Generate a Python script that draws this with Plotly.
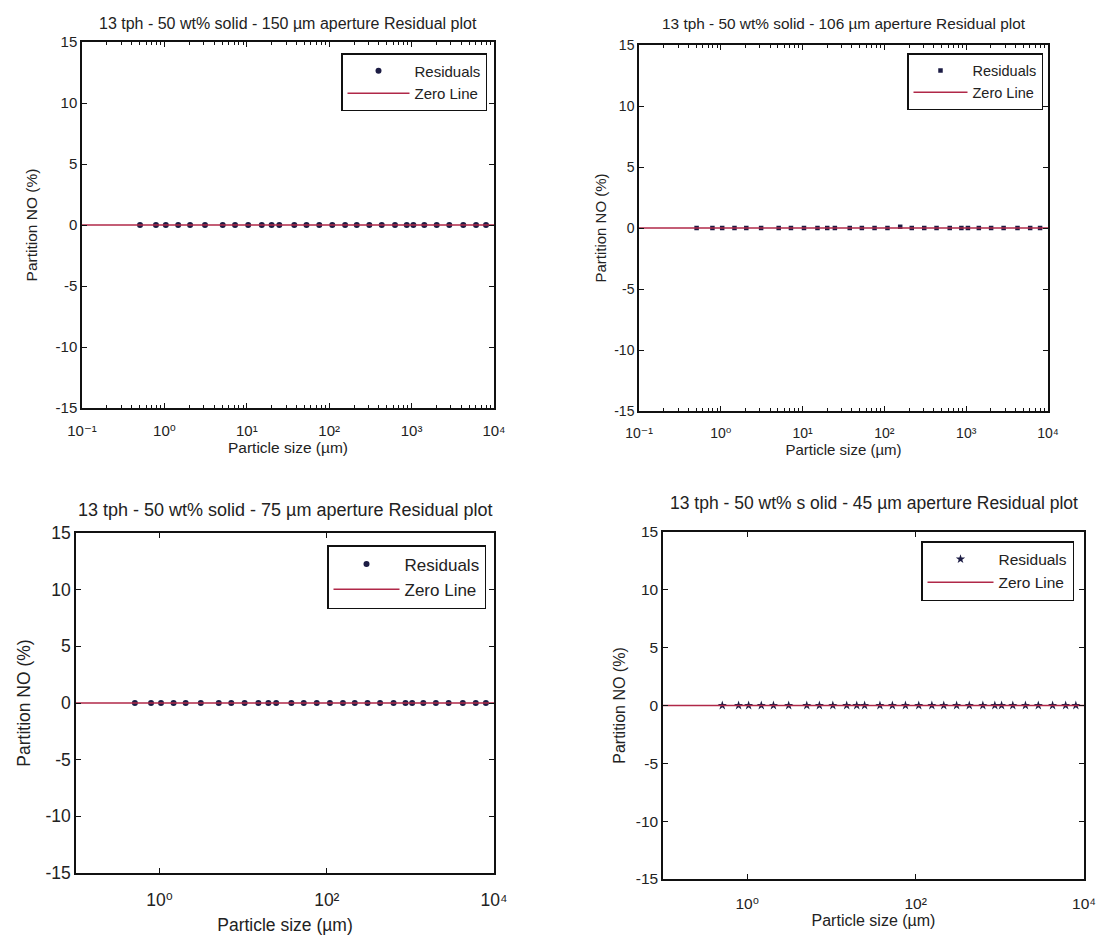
import plotly.graph_objects as go

# ---------------- data ----------------
TITLES = [
    "13 tph - 50 wt% solid - 150 \u00b5m aperture Residual plot",
    "13 tph - 50 wt% solid - 106 \u00b5m aperture Residual plot",
    "13 tph - 50 wt% solid - 75 \u00b5m aperture Residual plot",
    "13 tph - 50 wt% s olid - 45 \u00b5m aperture Residual plot",
]
X_TITLE = "Particle size (\u00b5m)"
Y_TITLE = "Partition NO (%)"
LEGEND_NAMES = ["Residuals", "Zero Line"]

particle_size_um = [0.506, 0.79, 1.04, 1.47, 2.05, 3.11, 5.1, 7.2, 10.4, 15.2,
                    20.0, 24.8, 37.7, 53.0, 75.8, 109.0, 156.0, 216.0, 307.0, 434.0,
                    629.0, 873.0, 1050.0, 1427.0, 2017.0, 2867.0, 4237.0, 6054.0, 8000.0]

residuals_150 = [0, 0, 0, 0, 0, 0, 0, 0, 0, 0, 0, 0, 0, 0, 0, 0, 0, 0, 0, 0,
                 0, 0, 0, 0, 0, 0, 0, 0, 0]
residuals_106 = [0, 0, 0, 0, 0, 0, 0, 0, 0, 0, 0, 0, 0, 0, 0, 0, 0.1, 0, 0, 0,
                 0, 0, 0, 0, 0, 0, 0, 0, 0]
residuals_75 = [0, 0, 0, 0, 0, 0, 0, 0, 0, 0, 0, 0, 0, 0, 0, 0, 0, 0, 0, 0,
                0, 0, 0, 0, 0, 0, 0, 0, 0]
residuals_45 = [0, 0, 0, 0, 0, 0, 0, 0, 0, 0, 0, 0, 0, 0, 0, 0, 0, 0, 0, 0,
                0, 0, 0, 0, 0, 0, 0, 0, 0]
RESIDUALS = [residuals_150, residuals_106, residuals_75, residuals_45]

zero_line_x = [0.1, 10000]
zero_line_y = [0, 0]

y_tick_vals = [-15, -10, -5, 0, 5, 10, 15]
y_tick_text = ["-15", "-10", "-5", "0", "5", "10", "15"]

x_tick_vals_full = [0.1, 1, 10, 100, 1000, 10000]
x_tick_text_full = ["10\u207b\u00b9", "10\u2070", "10\u00b9", "10\u00b2", "10\u00b3", "10\u2074"]
x_tick_vals_even = [1, 100, 10000]
x_tick_text_even = ["10\u2070", "10\u00b2", "10\u2074"]

# ---------------- layout / style ----------------
W, H = 1096, 940
FONT = "Liberation Sans, DejaVu Sans, Arial, sans-serif"
TXT = "#222222"
LINE_COLOR = "#b02848"
MARKER_COLOR = "#1c1c44"

minor_vals = [m * 10 ** e for e in range(-1, 4) for m in range(2, 10)]

panels = [
    dict(px=(82, 494), py=(42, 408), title_y=23, fs_title=16, fs_tick=15, fs_axis=15.5,
         fs_leg=15, leg=(487, 53), full=True, sym="circle", msize=6, tls=8, ystand=14, xstand=3,
         itemw=62),
    dict(px=(639, 1048), py=(45, 411), title_y=23, fs_title=15.4, fs_tick=14, fs_axis=15,
         fs_leg=14.5, leg=(1043, 53), full=True, sym="square", msize=4.5, tls=8, ystand=4, xstand=3,
         itemw=54),
    dict(px=(76, 494), py=(533, 873), title_y=510, fs_title=18, fs_tick=17.5, fs_axis=17.5,
         fs_leg=17, leg=(486, 545), full=False, sym="circle", msize=6, tls=10, ystand=10, xstand=10,
         itemw=66),
    dict(px=(663, 1084), py=(532, 879), title_y=503, fs_title=17.5, fs_tick=15.5, fs_axis=16,
         fs_leg=15.5, leg=(1074, 541), full=False, sym="star", msize=7, tls=10, ystand=6, xstand=3,
         itemw=66),
]

fig = go.Figure()
layout = dict(
    width=W, height=H, margin=dict(l=0, r=0, t=0, b=0),
    paper_bgcolor="white", plot_bgcolor="white",
    font=dict(family=FONT, color=TXT),
    showlegend=True,
    annotations=[],
)

for i, p in enumerate(panels):
    n = "" if i == 0 else str(i + 1)
    xa, ya, lg = "x" + n, "y" + n, "legend" + n
    fig.add_trace(go.Scatter(
        x=particle_size_um, y=RESIDUALS[i], mode="markers", name=LEGEND_NAMES[0],
        marker=dict(symbol=p["sym"], size=p["msize"], color=MARKER_COLOR),
        xaxis=xa, yaxis=ya, legend=lg, cliponaxis=False))
    fig.add_trace(go.Scatter(
        x=zero_line_x, y=zero_line_y, mode="lines", name=LEGEND_NAMES[1],
        line=dict(color=LINE_COLOR, width=1.5),
        xaxis=xa, yaxis=ya, legend=lg))

    xdom = [p["px"][0] / W, p["px"][1] / W]
    ydom = [1 - p["py"][1] / H, 1 - p["py"][0] / H]
    xaxis = dict(
        domain=xdom, anchor=ya, type="log", range=[-1, 4],
        showline=True, linecolor="#111111", linewidth=1.5, mirror="allticks",
        ticks="inside", ticklen=5, tickwidth=1, tickcolor="#111111",
        showgrid=False, zeroline=False,
        tickmode="array",
        tickvals=x_tick_vals_full if p["full"] else x_tick_vals_even,
        ticktext=x_tick_text_full if p["full"] else x_tick_text_even,
        tickfont=dict(size=p["fs_tick"], color=TXT), ticklabelstandoff=p["tls"],
        title=dict(text=X_TITLE, font=dict(size=p["fs_axis"], color=TXT), standoff=p["xstand"]),
        automargin=False,
    )
    if p["full"]:
        xaxis["minor"] = dict(ticks="inside", ticklen=3, tickcolor="#111111",
                              tickmode="array", tickvals=minor_vals, showgrid=False)
    yaxis = dict(
        domain=ydom, anchor=xa, range=[-15, 15],
        showline=True, linecolor="#111111", linewidth=1.5, mirror="allticks",
        ticks="inside", ticklen=5, tickwidth=1, tickcolor="#111111",
        showgrid=False, zeroline=False,
        tickmode="array", tickvals=y_tick_vals, ticktext=y_tick_text,
        tickfont=dict(size=p["fs_tick"], color=TXT),
        title=dict(text=Y_TITLE, font=dict(size=p["fs_axis"], color=TXT), standoff=p["ystand"]),
        automargin=False,
    )
    layout["xaxis" + n] = xaxis
    layout["yaxis" + n] = yaxis
    layout[lg] = dict(
        x=p["leg"][0] / W, xanchor="right", y=1 - p["leg"][1] / H, yanchor="top",
        bordercolor="#111111", borderwidth=1.5, bgcolor="white",
        font=dict(size=p["fs_leg"], color=TXT), itemwidth=p["itemw"],
    )
    layout["annotations"].append(dict(
        text=TITLES[i], xref="paper", yref="paper",
        x=(p["px"][0] + p["px"][1]) / 2 / W, y=1 - p["title_y"] / H,
        xanchor="center", yanchor="middle", showarrow=False,
        font=dict(size=p["fs_title"], color=TXT)))

fig.update_layout(**layout)
fig.write_html("out.html")
